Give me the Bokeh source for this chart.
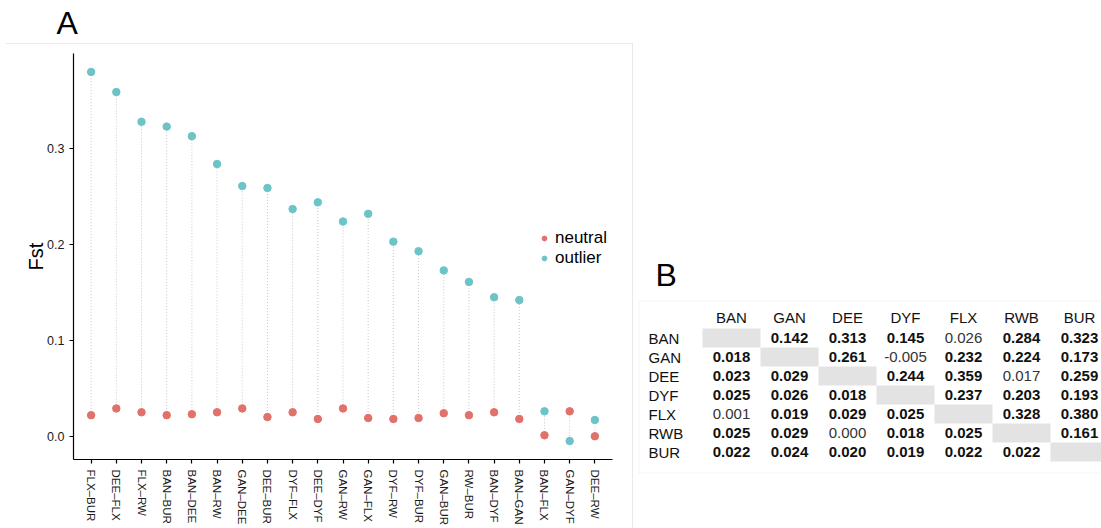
from bokeh.plotting import figure
from bokeh.models import (FactorRange, Range1d, FixedTicker, PrintfTickFormatter,
                          Legend, LegendItem, BoxAnnotation, ColumnDataSource, Spacer,
                          InlineStyleSheet, Title)
from bokeh.layouts import row, column
from bokeh.embed import file_html
from bokeh.resources import INLINE
from bokeh.core.properties import value

# ---------------- data ----------------
pairs = ["FLX–BUR", "DEE–FLX", "FLX–RW", "BAN–BUR", "BAN–DEE", "BAN–RW", "GAN–DEE",
         "DEE–BUR", "DYF–FLX", "DEE–DYF", "GAN–RW", "GAN–FLX", "DYF–RW", "DYF–BUR",
         "GAN–BUR", "RW–BUR", "BAN–DYF", "BAN–GAN", "BAN–FLX", "GAN–DYF", "DEE–RW"]
outlier = [0.380, 0.359, 0.328, 0.323, 0.313, 0.284, 0.261, 0.259, 0.237, 0.244, 0.224,
           0.232, 0.203, 0.193, 0.173, 0.161, 0.145, 0.142, 0.026, -0.005, 0.017]
neutral = [0.022, 0.029, 0.025, 0.022, 0.023, 0.025, 0.029, 0.020, 0.025, 0.018, 0.029,
           0.019, 0.018, 0.019, 0.024, 0.022, 0.025, 0.018, 0.001, 0.026, 0.000]
y_ticks = [0.0, 0.1, 0.2, 0.3]

pops = ["BAN", "GAN", "DEE", "DYF", "FLX", "RWB", "BUR"]
fst_matrix = [
    [None, 0.142, 0.313, 0.145, 0.026, 0.284, 0.323],
    [0.018, None, 0.261, -0.005, 0.232, 0.224, 0.173],
    [0.023, 0.029, None, 0.244, 0.359, 0.017, 0.259],
    [0.025, 0.026, 0.018, None, 0.237, 0.203, 0.193],
    [0.001, 0.019, 0.029, 0.025, None, 0.328, 0.380],
    [0.025, 0.029, 0.000, 0.018, 0.025, None, 0.161],
    [0.022, 0.024, 0.020, 0.019, 0.022, 0.022, None],
]
significant = [
    [None, True, True, True, False, True, True],
    [True, None, True, False, True, True, True],
    [True, True, None, True, True, False, True],
    [True, True, True, None, True, True, True],
    [False, True, True, True, None, True, True],
    [True, True, False, True, True, None, True],
    [True, True, True, True, True, True, None],
]

FONT = "Liberation Sans"
RED = "#E2716A"
TEAL = "#6CC4C8"

# ---------------- panel A ----------------
lo, hi = min(min(outlier), min(neutral)), max(max(outlier), max(neutral))
pad = (hi - lo) * 0.05
p1 = figure(width=636, height=528,
            x_range=FactorRange(factors=pairs, range_padding=0.2, range_padding_units="absolute"),
            y_range=Range1d(lo - pad, hi + pad),
            output_backend="svg", toolbar_location=None,
            min_border_left=73, min_border_right=24, min_border_top=53, min_border_bottom=68)
p1.outline_line_color = None
p1.xgrid.grid_line_color = None
p1.ygrid.grid_line_color = None
p1.stylesheets = [InlineStyleSheet(css="""
:host { position: relative; }
:host::after { content: ""; position: absolute; left: 6px; top: 43px; width: 627px;
  height: 500px; border-top: 1px solid #e9e9e9; border-right: 1px solid #e9e9e9;
  pointer-events: none; z-index: 5; }
""")]

# small blank band between the panel tag and the frame
p1.add_layout(Title(text=" ", text_font_size="8px", standoff=0), "above")
p1.title.text = "A"
p1.title.text_font = FONT
p1.title.text_font_size = "32px"
p1.title.text_font_style = "normal"
p1.title.text_color = "black"
p1.title.align = "left"
p1.title.vertical_align = "top"
p1.title.offset = -17
p1.title.standoff = 0

src = ColumnDataSource(dict(x=pairs, outlier=outlier, neutral=neutral))
p1.segment(x0="x", y0="neutral", x1="x", y1="outlier", source=src,
           line_color="#c8c8c8", line_width=1, line_dash="1 2")
r_n = p1.scatter(x="x", y="neutral", source=src, size=7.5, fill_color=RED, line_color=RED)
r_o = p1.scatter(x="x", y="outlier", source=src, size=7.5, fill_color=TEAL, line_color=TEAL)

for ax in (p1.xaxis[0], p1.yaxis[0]):
    ax.axis_line_color = "black"
    ax.axis_line_width = 1.2
    ax.major_tick_line_color = "black"
    ax.major_tick_line_width = 1.2
    ax.major_tick_in = 0
    ax.major_tick_out = 4
    ax.minor_tick_line_color = None
    ax.major_label_text_font = FONT
    ax.major_label_text_color = "#1a1a1a"

p1.yaxis.ticker = FixedTicker(ticks=y_ticks)
p1.yaxis.formatter = PrintfTickFormatter(format="%.1f")
p1.yaxis.major_label_text_font_size = "12.5px"
p1.yaxis.axis_label = "Fst"
p1.yaxis.axis_label_text_font = FONT
p1.yaxis.axis_label_text_font_size = "20px"
p1.yaxis.axis_label_text_font_style = "normal"
p1.yaxis.axis_label_text_color = "black"
p1.yaxis.axis_label_standoff = -3

p1.xaxis.major_label_orientation = "vertical"
p1.xaxis.major_label_text_font_size = "11.5px"
p1.xaxis.major_label_standoff = 6

legend = Legend(items=[LegendItem(label="neutral", renderers=[r_n]),
                       LegendItem(label="outlier", renderers=[r_o])],
                location=(465, 191), border_line_color=None, background_fill_alpha=0,
                padding=0, margin=0, spacing=0, glyph_width=12, glyph_height=20,
                label_height=20, label_standoff=5, label_text_font=FONT,
                label_text_font_size="17px", label_text_color="black")
p1.add_layout(legend)

# ---------------- panel B (table) ----------------
n = len(pops)
xr = Range1d(-64 / 58, 399 / 58)
yr = Range1d(145 / 19, -28 / 19)
p2 = figure(width=465, height=288, x_range=xr, y_range=yr,
            output_backend="svg", toolbar_location=None,
            x_axis_location=None, y_axis_location=None,
            min_border_left=2, min_border_right=0, min_border_top=60, min_border_bottom=55)
p2.outline_line_color = None
p2.grid.visible = False
p2.title.text = "B"
p2.title.text_font = FONT
p2.title.text_font_size = "32px"
p2.title.text_font_style = "normal"
p2.title.text_color = "black"
p2.title.align = "left"
p2.title.offset = 17
p2.title.standoff = 16

p2.add_layout(BoxAnnotation(left=xr.start, right=xr.end + 1, top=yr.end, bottom=yr.start,
                            fill_color=None, fill_alpha=0,
                            line_color="#d9d9d9", line_width=2, level="underlay"))

diag = [i + 0.5 for i in range(n)]
p2.rect(x=diag, y=diag, width=1, height=1, fill_color="#e3e3e3", line_color=None)

bold = dict(x=[], y=[], t=[])
norm = dict(x=[], y=[], t=[])
for i in range(n):
    for j in range(n):
        v = fst_matrix[i][j]
        if v is None:
            continue
        d = bold if significant[i][j] else norm
        d["x"].append(j + 0.5)
        d["y"].append(i + 0.5)
        d["t"].append(f"{v:.3f}")

common = dict(text_align="center", text_baseline="middle", text_font=value(FONT),
              text_font_size="15px")
p2.text(x=[j + 0.5 for j in range(n)], y=[-0.6] * n, text=pops, text_color="#111111", **common)
p2.text(x=[-54 / 58] * n, y=diag, text=pops, text_color="#111111", text_align="left",
        text_baseline="middle", text_font=value(FONT), text_font_size="15px")
p2.text(x="x", y="y", text="t", source=ColumnDataSource(bold), text_color="#111111",
        text_font_style="bold", **common)
p2.text(x="x", y="y", text="t", source=ColumnDataSource(norm), text_color="#333333", **common)

right_col = column(Spacer(width=465, height=240), p2, spacing=0)
layout = row(p1, right_col, spacing=0)
open("out.html", "w").write(file_html(layout, INLINE))
